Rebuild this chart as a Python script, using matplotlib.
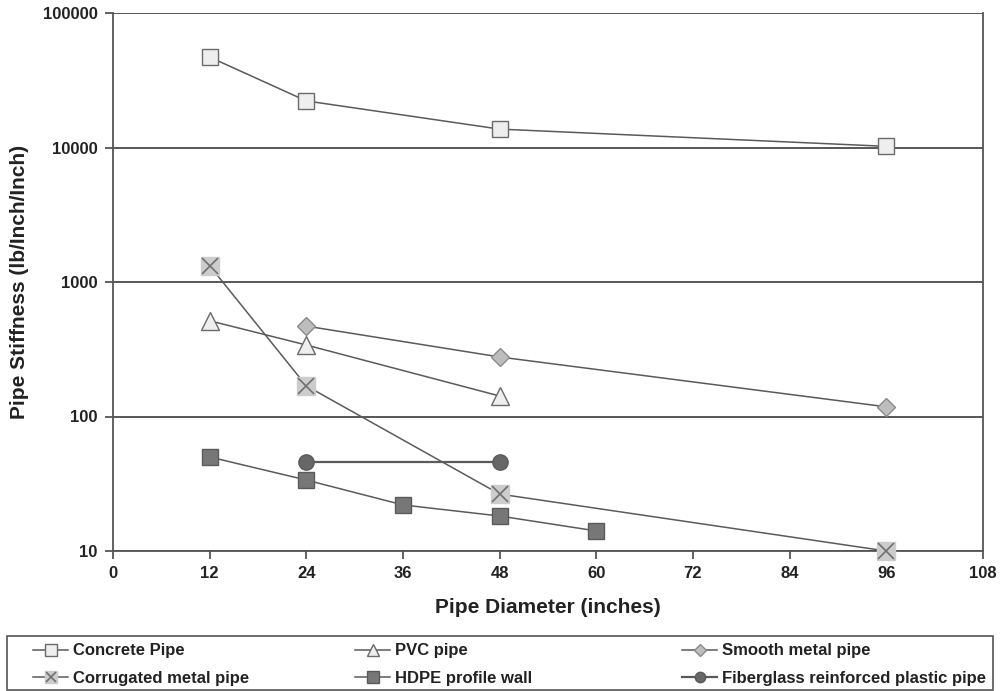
import matplotlib
matplotlib.use('Agg')
import matplotlib.pyplot as plt
from matplotlib.patches import Rectangle
from matplotlib.ticker import FixedLocator, NullLocator, FuncFormatter

plt.rcParams['font.family'] = ['Liberation Sans', 'DejaVu Sans']
plt.rcParams['font.weight'] = 'bold'

# Pipe stiffness by diameter, one pair of lists per pipe type
concrete_x = [12, 24, 48, 96]
concrete_y = [47000, 22200, 13700, 10200]
pvc_x = [12, 24, 48]
pvc_y = [515, 340, 142]
smooth_x = [24, 48, 96]
smooth_y = [470, 277, 118]
corrugated_x = [12, 24, 48, 96]
corrugated_y = [1320, 169, 26.5, 10]
hdpe_x = [12, 24, 36, 48, 60]
hdpe_y = [50, 33.7, 22, 18.2, 14.1]
frp_x = [24, 48]
frp_y = [46, 46]

x_ticks = [0, 12, 24, 36, 48, 60, 72, 84, 96, 108]
y_ticks = [10, 100, 1000, 10000, 100000]

LINE = '#5a5a5a'
W, H = 1001, 691

fig = plt.figure(figsize=(W / 100, H / 100), dpi=100)
ax = fig.add_axes([113 / W, 1 - 551 / H, 870 / W, 538 / H])

common = dict(color=LINE, lw=1.1, mew=1.0, zorder=3, clip_on=False)
concrete, = ax.plot(concrete_x, concrete_y, marker='s', ms=12,
                    mfc='#eeeeee', mec='#6a6a6a', **common)
pvc, = ax.plot(pvc_x, pvc_y, marker='^', ms=13,
               mfc='#eeeeee', mec='#6a6a6a', **common)
smooth, = ax.plot(smooth_x, smooth_y, marker='D', ms=9,
                  mfc='#bdbdbd', mec='#8a8a8a', **common)
corr_sq, = ax.plot(corrugated_x, corrugated_y, marker='s', ms=13,
                   mfc='#cccccc', mec='#cccccc', **common)
corr_x, = ax.plot(corrugated_x, corrugated_y, ls='none', marker='x', ms=11,
                  mec='#707070', mew=1.2, zorder=4, clip_on=False)
hdpe, = ax.plot(hdpe_x, hdpe_y, marker='s', ms=12,
                mfc='#777777', mec='#5a5a5a', **common)
frp, = ax.plot(frp_x, frp_y, marker='o', ms=11,
               mfc='#676767', mec='#5a5a5a', **{**common, 'lw': 1.6})

ax.set_yscale('log')
ax.set_xlim(0, 108)
ax.set_ylim(10, 100000)
ax.xaxis.set_major_locator(FixedLocator(x_ticks))
ax.yaxis.set_major_locator(FixedLocator(y_ticks))
ax.yaxis.set_minor_locator(NullLocator())
ax.yaxis.set_major_formatter(FuncFormatter(lambda v, p: f'{int(v)}'))

ax.grid(axis='y', color='#4a4a4a', lw=1.3)
ax.set_axisbelow(True)
for side in ['left', 'bottom', 'right']:
    ax.spines[side].set_color('#555555')
    ax.spines[side].set_linewidth(1.3)
ax.spines['top'].set_visible(False)
ax.tick_params(axis='both', direction='out', length=6, width=1.3, color='#555555',
               labelsize=12, labelcolor='#222222', pad=5)

ax.set_xlabel('Pipe Diameter (inches)', fontsize=15, fontweight='bold', color='#222222', labelpad=12)
ax.set_ylabel('Pipe Stiffness (lb/Inch/Inch)', fontsize=15, fontweight='bold', color='#222222', labelpad=10)

# legend laid out as three fixed-width columns inside one box
columns = [
    (33, [concrete, (corr_sq, corr_x)], ['Concrete Pipe', 'Corrugated metal pipe']),
    (355, [pvc, hdpe], ['PVC pipe', 'HDPE profile wall']),
    (682, [smooth, frp], ['Smooth metal pipe', 'Fiberglass reinforced plastic pipe']),
]
for x0, hs, ls in columns:
    leg = fig.legend(hs, ls, loc='center left', bbox_to_anchor=(x0 / W, 1 - 664.5 / H),
                     frameon=False, fontsize=12, markerscale=0.68, handlelength=2.1,
                     handletextpad=0.3, labelspacing=0.72, borderpad=0, borderaxespad=0)
    for t in leg.get_texts():
        t.set_color('#222222')

fig.patches.append(Rectangle((7 / W, 1 / H), 986 / W, 54 / H, transform=fig.transFigure,
                             fill=False, edgecolor='#555555', lw=1.2))

fig.savefig('out.png', dpi=100)
